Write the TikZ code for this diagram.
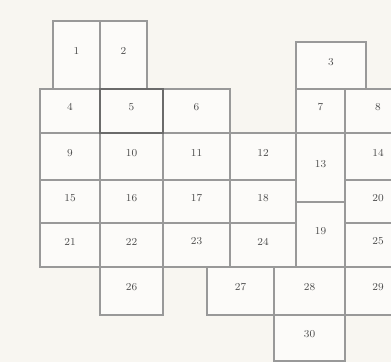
\documentclass[tikz,border=0pt]{standalone}
\usetikzlibrary{fit}

\begin{document}
\begin{tikzpicture}[x=0.02646cm, y=-0.02646cm, font=\footnotesize]

\definecolor{cPaper}{RGB}{248,246,241}
\colorlet{cLine}{black!40}
\colorlet{cText}{black!70}

\tikzset{
  cell/.style={draw=cLine, fill=white!55!cPaper, line width=1.5pt, inner sep=0pt, text=cText},
  hotcell/.style={cell, draw=black!58, fill=none}
}

\useasboundingbox (0,0) rectangle (391,362);
\fill[cPaper] (0,0) rectangle (391,362);
\clip (0,0) rectangle (391,362);

%% all cells: name / left / top / right / bottom / label
\foreach \nm/\xa/\ya/\xb/\yb/\lbl in {
    c1/53/21/100/89/1, c2/100/21/147/89/2, c3/296/42/366/89/3,
    c4/40/89/100/133/4, c5/100/89/163/133/5, c6/163/89/230/133/6,
    c7/296/89/345/133/7, c8/345/89/411/133/8,
    c9/40/133/100/180/9, c10/100/133/163/180/10, c11/163/133/230/180/11,
    c12/230/133/296/180/12, c13/296/133/345/202/13, c14/345/133/411/180/14,
    c15/40/180/100/223/15, c16/100/180/163/223/16, c17/163/180/230/223/17,
    c18/230/180/296/223/18, c20/345/180/411/223/20,
    c21/40/223/100/267/21, c22/100/223/163/267/22, c23/163/223/230/267/23,
    c24/230/223/296/267/24, c19/296/202/345/267/19, c25/345/223/411/267/25,
    c26/100/267/163/315/26, c27/207/267/274/315/27, c28/274/267/345/315/28,
    c29/345/267/411/315/29,
    c30/274/315/345/361/30} {
  \node[cell, fit={(\xa,\ya) (\xb,\yb)}] (\nm) {\lbl};
}

%% cell 5 has the darker frame
\node[hotcell, fit={(100,89) (163,133)}] (c5hot) {};

\end{tikzpicture}
\end{document}
